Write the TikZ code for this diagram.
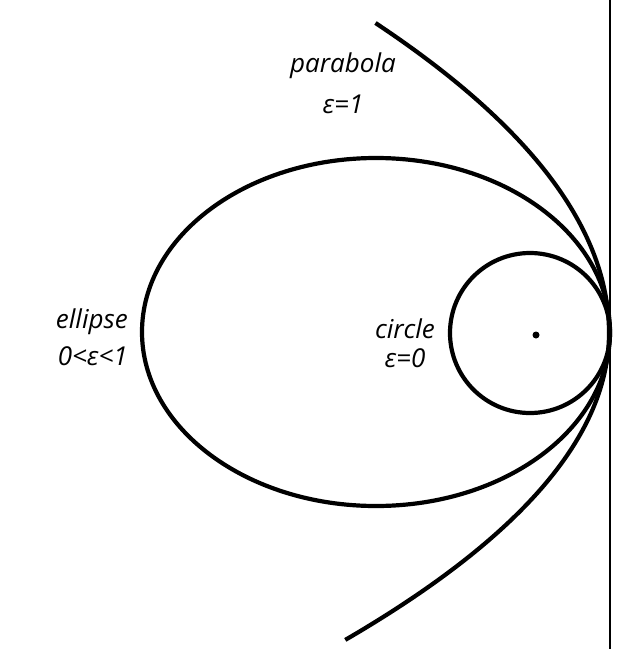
\documentclass[tikz,border=0pt]{standalone}
\usepackage{fontspec}
\setmainfont{Open Sans}
\begin{document}
\begin{tikzpicture}[x=1pt,y=-1pt,
  curve/.style={line width=4.2pt},
  lbl/.style={font=\fontsize{26}{30}\selectfont\itshape, inner sep=0pt}]
\useasboundingbox (0,0) rectangle (639,649);
\draw[line width=1.2pt] (610,0) -- (610,649);
\draw[curve] (376,332) ellipse [x radius=234, y radius=174];
\draw[curve] (530,333) circle [radius=80];
\fill (536,335) circle [radius=3.5];
\draw[curve] plot[domain=-3.1:0, samples=80, smooth] ({609-24.3*(\x)^2},{333+100*\x});
\draw[curve] plot[domain=0:3.07, samples=80, smooth] ({609-28*(\x)^2},{333+100*\x});
\node[lbl] (p) at (343,66) {parabola};
\node[lbl] (pe) at (343,104) {ε=1};
\node[lbl,anchor=east] (e) at (128,322) {ellipse};
\node[lbl,anchor=east] (ee) at (128,356) {0<ε<1};
\node[lbl] (c) at (405,329) {circle};
\node[lbl] (ce) at (405,358) {ε=0};
\end{tikzpicture}
\end{document}
